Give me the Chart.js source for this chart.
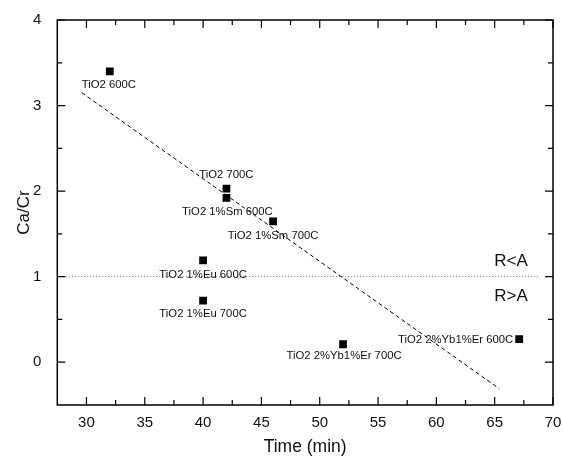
<!DOCTYPE html>
<html>
<head>
<meta charset="utf-8">
<title>Ca/Cr vs time</title>
<script src="https://cdn.jsdelivr.net/npm/chart.js@4.4.1/dist/chart.umd.min.js"></script>
<style>
  html, body { margin: 0; padding: 0; background: #fff; }
  #wrap { width: 563px; height: 457px; }
</style>
</head>
<body>
<div id="wrap"><canvas id="chart" width="563" height="457"></canvas></div>
<script>
/* ── Data ────────────────────────────────────────────────── */
const SAMPLES = [
  'TiO2 600C', 'TiO2 700C', 'TiO2 1%Sm 600C', 'TiO2 1%Sm 700C',
  'TiO2 1%Eu 600C', 'TiO2 1%Eu 700C', 'TiO2 2%Yb1%Er 700C', 'TiO2 2%Yb1%Er 600C'
];
const TIME  = [32, 42, 42, 46, 40, 40, 52, 67.1];
const RATIO = [3.40, 2.03, 1.92, 1.645, 1.19, 0.72, 0.21, 0.27];

/* linear fit (dashed) and the R=A boundary (dotted) */
const FIT_X = [29.6, 65.4];
const FIT_Y = [3.15, -0.31];
const BOUND_X = [28, 68.8];
const BOUND_Y = [1, 1];
const REGIONS = ['R<A', 'R>A'];

const X_TICKS = [30, 35, 40, 45, 50, 55, 60, 65, 70];
const X_MINOR = [32.5, 37.5, 42.5, 47.5, 52.5, 57.5, 62.5, 67.5];
const Y_TICKS = [0, 1, 2, 3, 4];
const Y_MINOR = [0.5, 1.5, 2.5, 3.5];

/* ── Style ───────────────────────────────────────────────── */
const FONT = "Arial, 'Liberation Sans', sans-serif";
const INK  = '#111';

/* label placement relative to its point: dx, dy, align */
const LABEL_POS = [
  [-1, 14, 'center'], [0, -14, 'center'], [1, 14, 'center'], [0, 14, 'center'],
  [0, 14, 'center'], [0, 13, 'center'], [1, 12, 'center'], [-6, 1, 'right']
];

const pts = (xs, ys) => xs.map((v, i) => ({ x: v, y: ys[i] }));

/* draws point labels, region labels, the frame and inward ticks */
const annotate = {
  id: 'annotate',
  afterDatasetsDraw(chart) {
    const { ctx, chartArea: a, scales: { x, y } } = chart;
    ctx.save();
    ctx.fillStyle = INK;
    ctx.textBaseline = 'middle';

    ctx.font = '11.3px ' + FONT;
    SAMPLES.forEach((s, i) => {
      const [dx, dy, al] = LABEL_POS[i];
      ctx.textAlign = al;
      ctx.fillText(s, x.getPixelForValue(TIME[i]) + dx, y.getPixelForValue(RATIO[i]) + dy);
    });

    ctx.font = '17px ' + FONT;
    ctx.textAlign = 'center';
    const bx = x.getPixelForValue(66.4), by = y.getPixelForValue(1);
    ctx.fillText(REGIONS[0], bx, by - 15);
    ctx.fillText(REGIONS[1], bx, by + 20);

    ctx.strokeStyle = '#000';
    ctx.lineWidth = 1.5;
    ctx.strokeRect(a.left, a.top, a.right - a.left, a.bottom - a.top);

    ctx.lineWidth = 1.2;
    ctx.beginPath();
    const xt = (v, len) => {
      const px = x.getPixelForValue(v);
      ctx.moveTo(px, a.bottom); ctx.lineTo(px, a.bottom - len);
      ctx.moveTo(px, a.top);    ctx.lineTo(px, a.top + len);
    };
    const yt = (v, len) => {
      const py = y.getPixelForValue(v);
      ctx.moveTo(a.left, py);  ctx.lineTo(a.left + len, py);
      ctx.moveTo(a.right, py); ctx.lineTo(a.right - len, py);
    };
    X_TICKS.forEach(v => xt(v, 8));
    X_MINOR.forEach(v => xt(v, 5));
    Y_TICKS.forEach(v => yt(v, 8));
    Y_MINOR.forEach(v => yt(v, 5));
    ctx.stroke();
    ctx.restore();
  }
};

new Chart(document.getElementById('chart'), {
  type: 'scatter',
  data: {
    datasets: [
      {
        label: 'samples',
        data: pts(TIME, RATIO),
        pointStyle: 'rect',
        pointRadius: 5.5,
        pointBorderWidth: 0,
        backgroundColor: '#000',
        borderColor: '#000',
      },
      {
        label: 'fit',
        data: pts(FIT_X, FIT_Y),
        showLine: true,
        pointRadius: 0,
        borderColor: '#000',
        borderWidth: 1,
        borderDash: [4, 3],
      },
      {
        label: 'R=A',
        data: pts(BOUND_X, BOUND_Y),
        showLine: true,
        pointRadius: 0,
        borderColor: '#777',
        borderWidth: 1,
        borderDash: [1, 2],
      },
    ],
  },
  options: {
    responsive: false,
    animation: false,
    devicePixelRatio: 1,
    layout: { padding: { left: 12, top: 20, right: 10, bottom: 0 } },
    plugins: { legend: { display: false }, tooltip: { enabled: false } },
    scales: {
      x: {
        type: 'linear', min: 27.5, max: 70,
        grid: { display: false }, border: { display: false },
        afterBuildTicks: s => { s.ticks = X_TICKS.map(v => ({ value: v })); },
        afterFit: s => { s.height = 52; },
        ticks: { color: INK, padding: 1, font: { family: FONT, size: 15 } },
        title: { display: true, text: 'Time (min)', color: INK, padding: 0,
                 font: { family: FONT, size: 17.5, lineHeight: 1.15 } },
      },
      y: {
        type: 'linear', min: -0.5, max: 4,
        grid: { display: false }, border: { display: false },
        afterBuildTicks: s => { s.ticks = Y_TICKS.map(v => ({ value: v })); },
        afterFit: s => { s.width = 45.3; },
        ticks: { color: INK, padding: 8, font: { family: FONT, size: 15 } },
        title: { display: true, text: 'Ca/Cr', color: INK,
                 font: { family: FONT, size: 17, lineHeight: 1.0 } },
      },
    },
  },
  plugins: [annotate],
});
</script>
</body>
</html>
